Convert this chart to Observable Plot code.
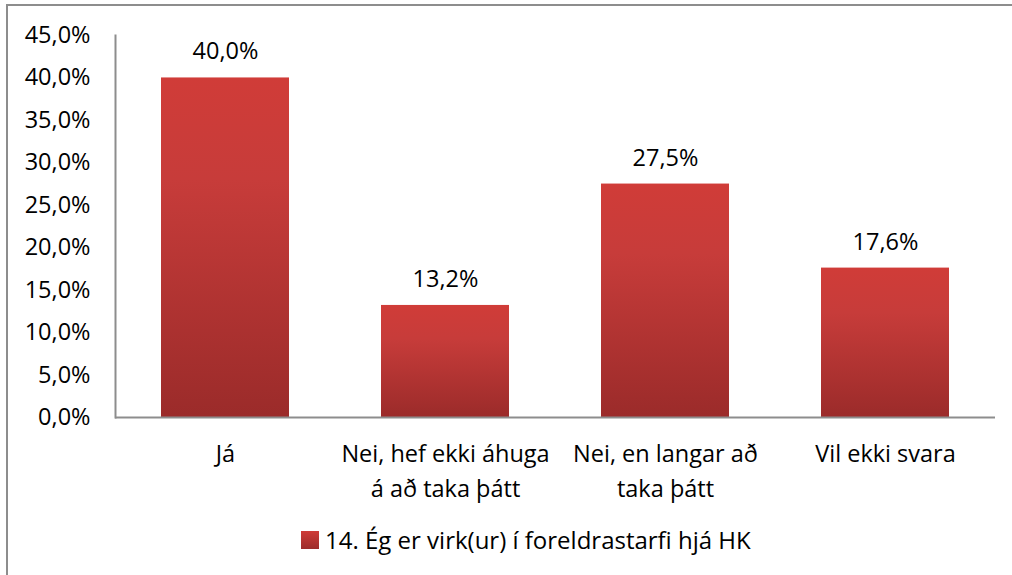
<!DOCTYPE html>
<html>
<head>
<meta charset="utf-8">
<script src="https://cdn.jsdelivr.net/npm/d3@7"></script>
<script src="https://cdn.jsdelivr.net/npm/@observablehq/plot@0.6"></script>
<style>
  html, body { margin: 0; padding: 0; background: #fff; overflow: hidden; }
  #wrap { position: relative; width: 1012px; height: 575px; }
  #border { position: absolute; left: 6px; top: 4px; width: 1100px; height: 700px; border: 2px solid #8d8d8d; box-sizing: border-box; }
  #chart { position: absolute; left: 0; top: 0; }
  #legend { position: absolute; left: 301px; top: 523px; font-family: "Open Sans", sans-serif; font-size: 24px; color: #000; display: flex; align-items: center; white-space: nowrap; }
  #legend .sw { width: 18px; height: 18px; margin-right: 6px; background: linear-gradient(#cf3c38, #9c2c2b); }
</style>
</head>
<body>
<div id="wrap">
  <div id="border"></div>
  <div id="chart"></div>
  <div id="legend"><span class="sw"></span><span id="legendText"></span></div>
</div>
<script>
const categories = ["Já", "Nei, hef ekki áhuga\ná að taka þátt", "Nei, en langar að\ntaka þátt", "Vil ekki svara"];
const values = [40.0, 13.2, 27.5, 17.6];
const yTicks = [0, 5, 10, 15, 20, 25, 30, 35, 40, 45];
const seriesName = "14. Ég er virk(ur) í foreldrastarfi hjá HK";

const data = categories.map((c, i) => ({category: c, value: values[i]}));
const fmt = v => v.toFixed(1).replace(".", ",") + "%";
const FS = 23.5;

const chart = Plot.plot({
  width: 1012,
  height: 520,
  marginLeft: 115,
  marginRight: 17,
  marginTop: 35,
  marginBottom: 103,
  style: { fontFamily: "Open Sans, sans-serif", fontSize: FS + "px", color: "#000", background: "transparent" },
  x: { domain: categories, paddingInner: 0.42, paddingOuter: 0.21, label: null },
  y: { domain: [0, 45], label: null },
  marks: [
    Plot.barY(data, { x: "category", y: "value", fill: "url(#barGrad)" }),
    Plot.ruleY([0], { stroke: "#8d8d8d", strokeWidth: 2 }),
    Plot.frame({ anchor: "left", stroke: "#8d8d8d", strokeWidth: 2 }),
    Plot.text(data, { x: "category", y: "value", text: d => fmt(d.value), dy: -26, fontSize: FS, fill: "#000" }),
    Plot.axisY({ ticks: yTicks, tickFormat: fmt, tickSize: 0, tickPadding: 25, fontSize: FS, fill: "#000" }),
    Plot.axisX({ tickSize: 0, tickPadding: 19, fontSize: FS, lineHeight: 1.5, fill: "#000" })
  ]
});

const ns = "http://www.w3.org/2000/svg";
const defs = document.createElementNS(ns, "defs");
defs.innerHTML = `
  <linearGradient id="barGrad" x1="0" y1="0" x2="0" y2="1">
    <stop offset="0" stop-color="#d03c38"/>
    <stop offset="0.3" stop-color="#c73c3a"/>
    <stop offset="1" stop-color="#9b2b2a"/>
  </linearGradient>
  <filter id="barShadow" x="-10%" y="-10%" width="130%" height="120%">
    <feDropShadow dx="2" dy="2" stdDeviation="2" flood-color="#000" flood-opacity="0.25"/>
  </filter>`;
chart.insertBefore(defs, chart.firstChild);
chart.querySelectorAll("rect").forEach(r => { if (r.getAttribute("fill") === "url(#barGrad)") r.setAttribute("filter", "url(#barShadow)"); });
document.getElementById("chart").appendChild(chart);
document.getElementById("legendText").textContent = seriesName;
</script>
</body>
</html>
